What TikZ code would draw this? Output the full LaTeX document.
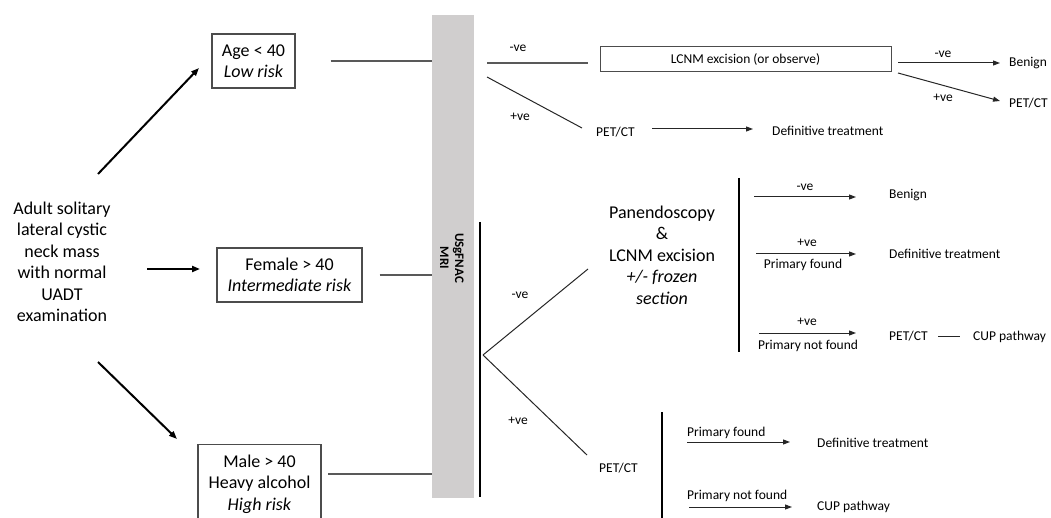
\documentclass[tikz,border=0pt]{standalone}
\usepackage{fontspec}
\setmainfont{Carlito}
\usetikzlibrary{arrows.meta}
\definecolor{bargray}{RGB}{208,206,206}
\begin{document}
\begin{tikzpicture}[x=1pt,y=-1pt,
  big/.style={font=\fontsize{18}{21.5}\selectfont, align=center, inner sep=0},
  sm/.style={font=\fontsize{13.5}{16}\selectfont, inner sep=0},
  box/.style={draw=black!70, line width=1.2pt, inner sep=0},
  conn/.style={draw=black!65, line width=1.5pt},
  fine/.style={draw=black!85, line width=1pt},
  arr/.style={fine, -{Triangle[length=7pt,width=5pt]}},
  bigarr/.style={draw=black, line width=2pt, -{Triangle[length=8pt,width=6pt]}},
  vrule/.style={draw=black, line width=2.6pt}
]
\useasboundingbox (0,0) rectangle (1051,518);

% left text and risk boxes
\node[big] (adult) at (62,262) {Adult solitary\\lateral cystic\\neck mass\\with normal\\UADT\\examination};
\node[box, big, minimum width=83, minimum height=54] (age) at (253.5,61) {Age < 40\\\textit{Low risk}};
\node[box, big, minimum width=145, minimum height=54] (female) at (289.5,275) {Female > 40\\\textit{Intermediate risk}};
\node[box, minimum width=123, minimum height=96, anchor=north] (male) at (259.5,444) {};
\node[big] (maletxt) at (259.5,484) {Male > 40\\Heavy alcohol\\\textit{High risk}};

\coordinate (a1s) at (98,174);   \coordinate (a1e) at (199,68);
\coordinate (a2s) at (147,269);  \coordinate (a2e) at (200,269);
\coordinate (a3s) at (98,362);   \coordinate (a3e) at (177,439);
\draw[bigarr] (a1s) -- (a1e);
\draw[bigarr] (a2s) -- (a2e);
\draw[bigarr] (a3s) -- (a3e);

% grey bar
\node[fill=bargray, minimum width=42, minimum height=483, inner sep=0] (bar) at (453,256.5) {};
\node[rotate=-90, align=center, inner sep=0, font=\fontsize{13}{15}\selectfont\bfseries] (bartxt) at (452,258) {USgFNAC\\MRI};

\draw[conn] ([xshift=35pt]age.east) -- (bar.west |- age.east);
\draw[conn] ([xshift=17pt]female.east) -- (bar.west |- female.east);
\coordinate (m1) at (328,474);
\draw[conn] (m1) -- (bar.west |- m1);

% top branch (low risk)
\coordinate (t1) at (487,63);
\coordinate (t1e) at (588,63);
\node[box, line width=1pt, minimum width=291, minimum height=25, sm] (lcnm) at (745.5,59.5) {LCNM excision (or observe)};
\draw[conn] (t1) -- (t1e);
\node[sm] (tneg) at (518,48) {-ve};
\coordinate (t2) at (487,77);
\coordinate (t2e) at (582,128);
\node[sm, anchor=west] (pet1) at (596,132) {PET/CT};
\draw[fine] (t2) -- (t2e);
\node[sm] (tpos) at (520,117) {+ve};
\node[sm, anchor=west] (def1) at (772,131) {Definitive treatment};
\coordinate (d1s) at (652,129);
\coordinate (d1e) at (753,129);
\draw[arr] (d1s) -- (d1e);

\node[sm, anchor=west] (ben1) at (1009,63) {Benign};
\node[sm, anchor=west] (pet2) at (1009,103) {PET/CT};
\coordinate (l1s) at (898,63); \coordinate (l1e) at (1000,63);
\coordinate (l2s) at (898,73); \coordinate (l2e) at (1000,101);
\draw[arr] (l1s) -- (l1e);
\draw[arr] (l2s) -- (l2e);
\node[sm] (lneg) at (943,54) {-ve};
\node[sm] (lpos) at (943,98) {+ve};

% middle / lower branch
\coordinate (v1s) at (480,222); \coordinate (v1e) at (480,497);
\draw[vrule] (v1s) -- (v1e);
\coordinate (apex) at (483,355);
\node[big] (pan) at (662,255) {Panendoscopy\\\&\\LCNM excision\\\textit{+/- frozen}\\\textit{section}};
\coordinate (s1e) at (588,269);
\coordinate (s2e) at (587,455);
\draw[fine] (apex) -- (s1e);
\draw[fine] (apex) -- (s2e);
\node[sm] (mneg) at (520,295) {-ve};
\node[sm] (mpos) at (518,421) {+ve};

\coordinate (v2s) at (739,178); \coordinate (v2e) at (739,352);
\draw[vrule] (v2s) -- (v2e);
\node[sm, anchor=west] (ben2) at (889,195) {Benign};
\node[sm, anchor=west] (def2) at (889,254) {Definitive treatment};
\node[sm, anchor=west] (pet3) at (889,336) {PET/CT};
\node[sm, anchor=west] (cup1) at (973,337) {CUP pathway};
\coordinate (p1s) at (754,197); \coordinate (p1e) at (856,197);
\coordinate (p2s) at (756,254); \coordinate (p2e) at (856,254);
\coordinate (p3s) at (759,333); \coordinate (p3e) at (856,333);
\draw[arr] (p1s) -- (p1e);
\draw[arr] (p2s) -- (p2e);
\draw[arr] (p3s) -- (p3e);
\node[sm] (pneg) at (805,187) {-ve};
\node[sm] (ppos1) at (807,243) {+ve};
\node[sm] (pf1) at (803,265) {Primary found};
\node[sm] (ppos2) at (807,322) {+ve};
\node[sm] (pnf1) at (808,346) {Primary not found};
\coordinate (c1) at (938,336); \coordinate (c2) at (960,336);
\draw[fine] (c1) -- (c2);

\node[sm, anchor=west] (pet4) at (599,468) {PET/CT};
\coordinate (v3s) at (662,412); \coordinate (v3e) at (662,522);
\draw[vrule] (v3s) -- (v3e);
\node[sm, anchor=west] (pf2) at (687,433) {Primary found};
\node[sm, anchor=west] (pnf2) at (687,496) {Primary not found};
\node[sm, anchor=west] (def3) at (817,443) {Definitive treatment};
\node[sm, anchor=west] (cup2) at (817,507) {CUP pathway};
\coordinate (q1s) at (687,442); \coordinate (q1e) at (790,442);
\coordinate (q2s) at (689,507); \coordinate (q2e) at (792,507);
\draw[arr] (q1s) -- (q1e);
\draw[arr] (q2s) -- (q2e);
\end{tikzpicture}
\end{document}
